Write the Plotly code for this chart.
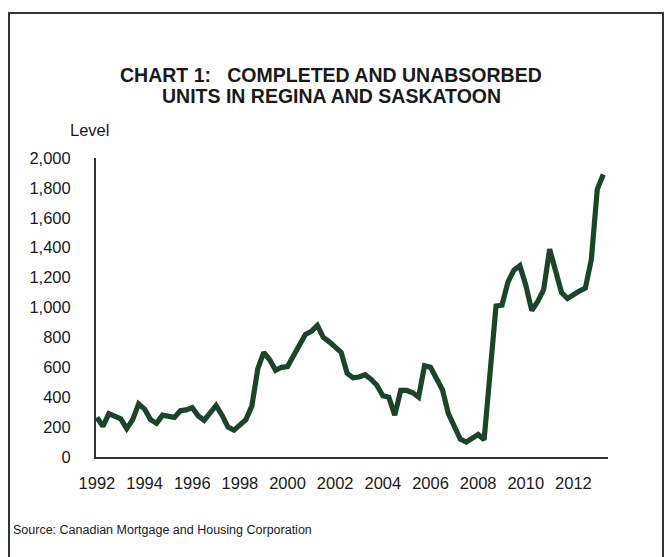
import plotly.graph_objects as go

start_year = 1992
values = [265, 205, 290, 270, 255, 190, 250, 355, 320, 250,
          225, 280, 270, 265, 310, 315, 330, 275, 245, 300,
          345, 280, 200, 180, 210, 250, 340, 590, 700, 650,
          580, 600, 605, 670, 750, 820, 840, 880, 800, 770,
          740, 700, 560, 530, 535, 550, 520, 480, 410, 400,
          280, 445, 445, 430, 400, 610, 600, 520, 450, 290,
          210, 120, 100, 125, 150, 115, 560, 1010, 1015, 1170,
          1250, 1280, 1150, 980, 1040, 1120, 1390, 1250, 1100, 1060,
          1090, 1110, 1130, 1320, 1790, 1890]
quarters = [start_year + i * 0.25 for i in range(len(values))]
tick_years = list(range(1992, 2013, 2))
y_ticks = list(range(0, 2001, 200))

title_lines = ["CHART 1:   COMPLETED AND UNABSORBED", "UNITS IN REGINA AND SASKATOON"]
y_title = "Level"
source_text = "Source: Canadian Mortgage and Housing Corporation"

W, H = 665, 557
L, R, T, B = 96, 608, 158, 457


def px(x):
    return (x - L) / (R - L)


def py(y):
    return (B - y) / (B - T)


FONT = "Liberation Sans, Arial, sans-serif"
TXT = "#1a1a1a"

fig = go.Figure()
fig.add_trace(go.Scatter(x=quarters, y=values, mode="lines",
                         line=dict(color="#1b4527", width=5.2),
                         hoverinfo="skip"))

fig.update_layout(
    width=W, height=H,
    margin=dict(l=L, r=W - R, t=T, b=H - B),
    paper_bgcolor="white", plot_bgcolor="white",
    showlegend=False,
    font=dict(family=FONT, color=TXT, size=16),
    xaxis=dict(range=[1991.96, 2013.45], tickvals=tick_years,
               ticktext=[str(t) for t in tick_years],
               showgrid=False, zeroline=False, showline=True,
               linecolor="#333333", linewidth=2, ticks="",
               ticklabelstandoff=10,
               tickfont=dict(size=16.5, family=FONT, color=TXT)),
    yaxis=dict(range=[0, 2000], tickvals=y_ticks,
               ticktext=[f"{v:,}" for v in y_ticks],
               showgrid=False, zeroline=False, showline=True,
               linecolor="#333333", linewidth=2, ticks="",
               ticklabelstandoff=20,
               tickfont=dict(size=16.5, family=FONT, color=TXT)),
)

for line_text, ypix in zip(title_lines, [75, 96]):
    fig.add_annotation(text="<b>" + line_text + "</b>",
                       xref="paper", yref="paper", x=px(331), y=py(ypix),
                       xanchor="center", yanchor="middle", showarrow=False,
                       font=dict(size=19.5, family=FONT, color=TXT))
fig.add_annotation(text=y_title, xref="paper", yref="paper",
                   x=px(68), y=py(130), xanchor="left", yanchor="middle",
                   showarrow=False, font=dict(size=16.5, family=FONT, color=TXT))
fig.add_annotation(text=source_text, xref="paper", yref="paper",
                   x=px(11), y=py(530), xanchor="left", yanchor="middle",
                   showarrow=False, font=dict(size=12.5, family=FONT, color=TXT))

fig.add_shape(type="rect", xref="paper", yref="paper",
              x0=px(9), x1=px(663), y0=py(565), y1=py(13),
              line=dict(color="#333333", width=2), fillcolor="rgba(0,0,0,0)",
              layer="below")

fig.write_html("out.html")
